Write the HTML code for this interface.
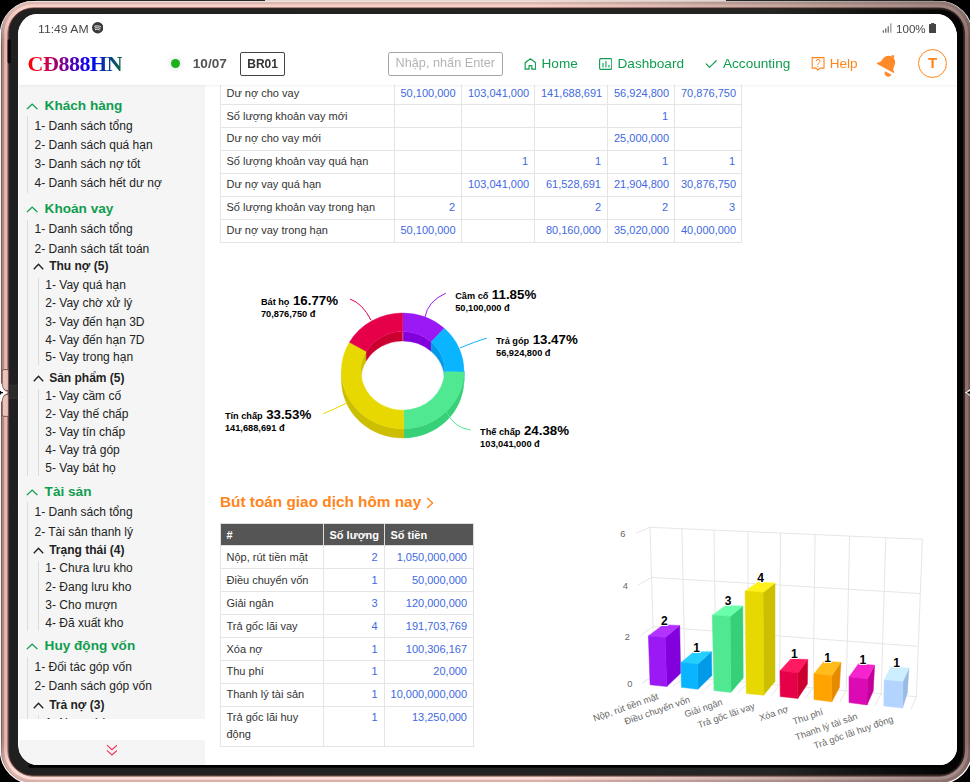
<!DOCTYPE html>
<html lang="vi"><head><meta charset="utf-8"><title>CĐ888HN</title>
<style>
*{box-sizing:border-box;margin:0;padding:0}
html,body{width:970px;height:782px;overflow:hidden;background:#fff}
body{font-family:"Liberation Sans",sans-serif;position:relative;color:#222}
#frame{position:absolute;left:0;top:0;width:970px;height:782px;z-index:0}
#screen{position:absolute;left:18px;top:14px;width:939px;height:751px;background:#fff;border-radius:19px 20px 17.5px 20px / 21px 23px 18px 20.5px;overflow:hidden;z-index:1}
#status{position:absolute;left:0;top:0;width:939px;height:28px;font-size:11px;color:#484848}
#status .time{position:absolute;left:19.6px;top:7.5px;line-height:14px;transform:scaleX(1.11);transform-origin:0 0;white-space:nowrap}
#status .pct{position:absolute;left:877.8px;top:7.5px;line-height:14px;transform:scaleX(1.055);transform-origin:0 0}
#hdr{will-change:transform;position:absolute;left:0;top:0;width:939px;height:71px;background:#fff;box-shadow:0 1px 2px rgba(0,0,0,.055);z-index:5}
#logo{position:absolute;left:9.5px;top:36.6px;font-family:"Liberation Serif",serif;font-weight:bold;font-size:22px;line-height:26px;letter-spacing:-0.45px;
 background:linear-gradient(90deg,#ff0000 0%,#f00028 12%,#0000ff 66%,#0a6a3c 100%);-webkit-background-clip:text;background-clip:text;color:transparent;-webkit-text-fill-color:transparent}
.dot{position:absolute;left:152.7px;top:45px;width:9px;height:9px;border-radius:50%;background:#1cb01c;box-shadow:0 0 4px 2px rgba(200,200,200,.35)}
.date{position:absolute;left:174.8px;top:42px;font-size:13.6px;font-weight:bold;color:#555;line-height:16px}
.br{position:absolute;left:222.2px;top:38.4px;width:44.8px;height:23.5px;border:1px solid #444;border-radius:2px;font-size:12px;font-weight:bold;color:#333;text-align:center;line-height:23.2px}
.srch{position:absolute;left:370px;top:38.2px;width:114.8px;height:23.8px;border:1px solid #a2a2a2;border-radius:2.5px;font-size:12.7px;color:#b4b4b4;line-height:20.6px;padding-left:6.6px;white-space:nowrap;overflow:hidden}
.nav{position:absolute;top:42px;font-size:13.6px;line-height:16px;white-space:nowrap}
.g{color:#0f9d4f}.o{color:#ff851b}
.ico{position:absolute}
.avatar{position:absolute;left:900px;top:35.2px;width:29px;height:29px;border:1px solid #ff851b;border-radius:50%;color:#ff851b;font-weight:bold;font-size:15px;text-align:center;line-height:26.4px}
#side{position:absolute;left:1px;top:70px;width:186px;height:634.5px;background:#f5f5f5;overflow:hidden;font-size:12px;color:#222}
#sidefoot{position:absolute;left:1px;top:726px;width:186px;height:25px;background:#f5f5f5}
.sh{position:relative;height:21px;line-height:21px;font-size:13.6px;font-weight:bold;color:#0f9d4f;padding-left:25.6px;white-space:nowrap}
.sh svg{position:absolute;left:6.5px;top:7.7px}

.it{height:19px;line-height:19px;white-space:nowrap}
.sub{position:relative;height:18px;line-height:18px;font-weight:bold;padding-left:14.5px;white-space:nowrap}
.sub svg{position:absolute;left:-1.6px;top:6.3px}

.it2{height:18px;line-height:18px;white-space:nowrap}
#main{position:absolute;left:187px;top:72px;width:752px;height:679px;background:#fff}
table{border-collapse:collapse;font-size:11px;line-height:16.93px;color:#333}
td,th{border:1px solid #e5e5e5;padding:2.5px 6px;vertical-align:top;text-align:left;font-weight:normal}
td.n{text-align:right;color:#4169e1}
#t1{position:absolute;left:14.5px;top:-4.9px;table-layout:fixed;width:521.5px}
#t2{position:absolute;left:14.5px;top:437.3px}
#t2 th{line-height:16px;background:#555;color:#fff;font-weight:bold;border-color:#ddd;white-space:nowrap}
.h2{position:absolute;left:15px;top:405.5px;font-size:15.35px;font-weight:bold;color:#ff851b;line-height:20px;white-space:nowrap}
svg text{font-family:"Liberation Sans",sans-serif}
</style></head><body>

<svg id="frame" width="970" height="782" viewBox="0 0 970 782">
<defs><linearGradient id="fg" gradientUnits="userSpaceOnUse" x1="0" y1="0" x2="970" y2="0"><stop offset="0" stop-color="#000" stop-opacity="0"/><stop offset="0.55" stop-color="#000" stop-opacity="0"/><stop offset="0.8" stop-color="#000" stop-opacity="0.2"/><stop offset="1" stop-color="#000" stop-opacity="0.38"/></linearGradient><linearGradient id="og" gradientUnits="userSpaceOnUse" x1="0" y1="0" x2="0" y2="782"><stop offset="0" stop-color="#efe6e1"/><stop offset="0.06" stop-color="#7a5a54"/><stop offset="0.94" stop-color="#7a5a54"/><stop offset="1" stop-color="#d8b0aa"/></linearGradient><linearGradient id="g2" gradientUnits="userSpaceOnUse" x1="0" y1="0" x2="0" y2="782"><stop offset="0" stop-color="#dcb8b0"/><stop offset="0.012" stop-color="#dcb8b0"/><stop offset="0.05" stop-color="#ad8b84"/><stop offset="0.95" stop-color="#ad8b84"/><stop offset="0.988" stop-color="#e2bab4"/><stop offset="1" stop-color="#d8b0aa"/></linearGradient><linearGradient id="g3" gradientUnits="userSpaceOnUse" x1="0" y1="0" x2="0" y2="782"><stop offset="0" stop-color="#f7d0c8"/><stop offset="0.012" stop-color="#f7d0c8"/><stop offset="0.05" stop-color="#e8b5b0"/><stop offset="0.95" stop-color="#e8b5b0"/><stop offset="0.985" stop-color="#fddcd7"/><stop offset="1" stop-color="#fddcd7"/></linearGradient><linearGradient id="bg" gradientUnits="userSpaceOnUse" x1="0" y1="0" x2="970" y2="0"><stop offset="0" stop-color="#202020"/><stop offset="0.8" stop-color="#242424"/><stop offset="0.97" stop-color="#050505"/><stop offset="1" stop-color="#030303"/></linearGradient></defs>
<rect x="0" y="0" width="36" height="36" fill="#000"/><rect x="934" y="0" width="36" height="36" fill="#000"/><rect x="0" y="746" width="36" height="36" fill="#000"/><rect x="934" y="746" width="36" height="36" fill="#000"/>
<path d="M33.900000000000006 0.7H938.8A34.2 34.2 0 0 1 973 34.900000000000006V750.3A34.2 34.2 0 0 1 938.8 784.5H33.900000000000006A34.2 34.2 0 0 1 -0.3 750.3V34.900000000000006A34.2 34.2 0 0 1 33.900000000000006 0.7Z" fill="#fff"/>
<rect x="0" y="0" width="970" height="0.85" fill="#000"/>
<rect x="265" y="0" width="461" height="2" fill="#e9d6d1"/>
<path d="M33.5 1.0H939.0A32.5 32.5 0 0 1 971.5 33.5V750.5A32.5 32.5 0 0 1 939.0 783.0H33.5A32.5 32.5 0 0 1 1.0 750.5V33.5A32.5 32.5 0 0 1 33.5 1.0Z" fill="#d2a39d"/>
<path d="M33.5 1.5H939.0A32.0 32.0 0 0 1 971.0 33.5V750.5A32.0 32.0 0 0 1 939.0 782.5H33.5A32.0 32.0 0 0 1 1.5 750.5V33.5A32.0 32.0 0 0 1 33.5 1.5Z" fill="none" stroke="url(#og)" stroke-width="1.1"/>
<path d="M33.5 3.1H939.0A30.4 30.4 0 0 1 969.4 33.5V750.5A30.4 30.4 0 0 1 939.0 780.9H33.5A30.4 30.4 0 0 1 3.1 750.5V33.5A30.4 30.4 0 0 1 33.5 3.1Z" fill="none" stroke="url(#g2)" stroke-width="2.2"/>
<path d="M33.5 5.9H939.0A27.6 27.6 0 0 1 966.6 33.5V750.5A27.6 27.6 0 0 1 939.0 778.1H33.5A27.6 27.6 0 0 1 5.9 750.5V33.5A27.6 27.6 0 0 1 33.5 5.9Z" fill="none" stroke="url(#g3)" stroke-width="3.2"/>
<path d="M33.5 7.9H939.0A25.6 25.6 0 0 1 964.6 33.5V750.5A25.6 25.6 0 0 1 939.0 776.1H33.5A25.6 25.6 0 0 1 7.9 750.5V33.5A25.6 25.6 0 0 1 33.5 7.9Z" fill="none" stroke="#8a655f" stroke-width="1.0"/>
<path d="M33.5 1.0H939.0A32.5 32.5 0 0 1 971.5 33.5V750.5A32.5 32.5 0 0 1 939.0 783.0H33.5A32.5 32.5 0 0 1 1.0 750.5V33.5A32.5 32.5 0 0 1 33.5 1.0Z" fill="url(#fg)"/>
<path d="M33.1 8.3H939.8A24.5 24.5 0 0 1 964.3 32.8V750.9A24.5 24.5 0 0 1 939.8 775.4H33.1A24.5 24.5 0 0 1 8.6 750.9V32.8A24.5 24.5 0 0 1 33.1 8.3Z" fill="url(#bg)"/>
<path d="M33.099999999999994 8.9H939.8A23.9 23.9 0 0 1 963.6999999999999 32.8V750.9A23.9 23.9 0 0 1 939.8 774.8H33.099999999999994A23.9 23.9 0 0 1 9.2 750.9V32.8A23.9 23.9 0 0 1 33.099999999999994 8.9Z" fill="none" stroke="#2e221f" stroke-width="1.2"/>
<path d="M30 766.2H944" stroke="#000" stroke-width="3" stroke-linecap="round"/>
<rect x="7.6" y="39.5" width="3.4" height="24" rx="1.4" fill="#0a0a0a"/>
<path d="M2.2 371.5Q2.2 369.6 4 369.6H8.4V390.6H6Q2.6 389.5 2.2 385Z" fill="#e9c2bc" stroke="#6e4c47" stroke-width="0.9"/>
<path d="M2.2 414.5Q2.2 416.4 4 416.4H8.4V394.6H6Q2.6 395.7 2.2 400Z" fill="#e9c2bc" stroke="#6e4c47" stroke-width="0.9"/>
<path d="M0 383.5H1.7C2.2 388.6 4.4 391.4 7.7 392.6C4.4 393.8 2.2 396.6 1.7 401.5H0Z" fill="#fff"/>
<path d="M0 392.6H3M0.6 390.9V394.4" stroke="#000" stroke-width="1.1" fill="none"/>
<rect x="9" y="385.3" width="8.8" height="13" fill="#2b2b2b"/>
<path d="M9 385.3H17.8M9 398.3H17.8" stroke="#3a3a3a" stroke-width="0.8" fill="none"/>
<path d="M970 389.5 L968.4 389.9 C967.6 391.4 966.4 392.2 964.6 392.6 C966.4 393 967.6 393.8 968.4 395.3 L970 395.7Z" fill="#fff"/>
<path d="M967.4 392.6H970M969.2 391V394.4" stroke="#000" stroke-width="1.1" fill="none"/>
</svg>
<div id="screen">
<div id="hdr">
 <div id="status">
  <span class="time">11:49 AM</span>
  <svg class="ico" style="left:74px;top:8.3px" width="11.4" height="11.4" viewBox="0 0 24 24"><circle cx="12" cy="12" r="12" fill="#3a3a3a"/><path d="M5.6 8.9c4.3-1.3 9.2-.9 12.9 1.2M6.4 12.5c3.6-1 7.6-.6 10.7 1.2M7.2 15.9c2.9-.8 6-.5 8.6 1" fill="none" stroke="#fff" stroke-width="1.9" stroke-linecap="round"/></svg>
  <svg class="ico" style="left:864px;top:9px" width="11" height="10" viewBox="0 0 11 10"><rect x="0.7" y="7.3" width="1.3" height="2.4" fill="#666"/><rect x="3.1" y="5.3" width="1.3" height="4.4" fill="#666"/><rect x="5.6" y="3.2" width="1.3" height="6.5" fill="#777"/><rect x="8.2" y="0.3" width="1.3" height="9.4" fill="#999"/></svg>
  <span class="pct">100%</span>
  <svg class="ico" style="left:911px;top:9px" width="7.4" height="10" viewBox="0 0 7.4 10"><path d="M2.2 0h3v1h1.5a.7.7 0 0 1 .7.7v7.6a.7.7 0 0 1-.7.7H.7a.7.7 0 0 1-.7-.7V1.7A.7.7 0 0 1 .7 1h1.5z" fill="#444"/></svg>
 </div>
 <div id="logo">CĐ888HN</div>
 <div class="dot"></div>
 <div class="date">10/07</div>
 <div class="br">BR01</div>
 <div class="srch">Nhập, nhấn Enter</div>
 <svg class="ico" style="left:505.5px;top:44px" width="12.6" height="12" viewBox="0 0 12.6 12"><path d="M1.15 4.7 6.4 0.85 11.65 4.7V11.2H7.85V7.7H5.05V11.2H1.15Z" fill="none" stroke="#0f9d4f" stroke-width="1.2" stroke-linejoin="round"/></svg>
 <div class="nav g" style="left:523.5px">Home</div>
 <svg class="ico" style="left:580.5px;top:44px" width="13.4" height="12" viewBox="0 0 13.4 12"><rect x="0.6" y="0.6" width="12.2" height="10.8" rx="1.4" fill="none" stroke="#0f9d4f" stroke-width="1.15"/><path d="M4.0 5.4V9.05M6.95 3.3V9.05M10.0 7.4V9.05" stroke="#0f9d4f" stroke-width="1.1" stroke-linecap="round" fill="none"/></svg>
 <div class="nav g" style="left:599.5px">Dashboard</div>
 <svg class="ico" style="left:686.5px;top:45.5px" width="12" height="9" viewBox="0 0 12 9"><path d="M1.2 3.95 4.45 7.35 11.3 0.75" fill="none" stroke="#0f9d4f" stroke-width="1.15" stroke-linecap="round" stroke-linejoin="round"/></svg>
 <div class="nav g" style="left:705px">Accounting</div>
 <svg class="ico" style="left:793px;top:43px" width="14.5" height="14.5" viewBox="0 0 14.5 14.5"><path d="M1.2 0.6H13V11.1H8.9L6.95 13.1 5 11.1H1.2Z" fill="none" stroke="#ff851b" stroke-width="1.1" stroke-linejoin="round"/><path d="M5.25 3.9Q5.4 2.4 7.1 2.4Q9.1 2.4 9.0 4.3Q8.9 5.3 7.6 6.3Q6.7 7 6.7 7.8" fill="none" stroke="#ff851b" stroke-width="0.95" stroke-linecap="round"/><circle cx="6.8" cy="9.5" r="0.6" fill="#ff851b"/></svg>
 <div class="nav o" style="left:811.7px">Help</div>
 <svg class="ico" style="left:850px;top:34px" width="40" height="40" viewBox="850 34 40 40"><g transform="translate(867.2,54.35) rotate(29)" fill="#ff8a2a"><path d="M-9.7 0H9.7V-1.3Q7.4 -2.2 7.0 -4.4L6.8 -6.7A6.8 6.8 0 0 0 -6.8 -6.7L-7.0 -4.4Q-7.4 -2.2 -9.7 -1.3Z"/><circle cx="0.9" cy="-14.0" r="1.5"/><path d="M1.4 2.5H8.6A3.6 3.7 0 0 1 1.4 2.5Z"/></g></svg>
 <div class="avatar">T</div>
</div>

<div id="side">
<div class="sh" style="position:absolute;left:0;top:11.0px"><svg width="12.3" height="6.9" preserveAspectRatio="none" viewBox="0 0 11 7"><path d="M0.8 6.2 5.5 1.2 10.2 6.2" fill="none" stroke="#0f9d4f" stroke-width="1.25"/></svg>Khách hàng</div>
<div class="it" style="position:absolute;left:15.5px;top:33.0px;height:18px;line-height:18px">1- Danh sách tổng</div>
<div class="it" style="position:absolute;left:15.5px;top:52.0px;height:18px;line-height:18px">2- Danh sách quá hạn</div>
<div class="it" style="position:absolute;left:15.5px;top:71.0px;height:18px;line-height:18px">3- Danh sách nợ tốt</div>
<div class="it" style="position:absolute;left:15.5px;top:90.0px;height:18px;line-height:18px">4- Danh sách hết dư nợ</div>
<div style="position:absolute;left:8.2px;top:32.4px;width:1px;height:76.3px;background:#dcdcdc"></div>
<div class="sh" style="position:absolute;left:0;top:114.0px"><svg width="12.3" height="6.9" preserveAspectRatio="none" viewBox="0 0 11 7"><path d="M0.8 6.2 5.5 1.2 10.2 6.2" fill="none" stroke="#0f9d4f" stroke-width="1.25"/></svg>Khoản vay</div>
<div class="it" style="position:absolute;left:15.5px;top:136.0px;height:18px;line-height:18px">1- Danh sách tổng</div>
<div class="it" style="position:absolute;left:15.5px;top:156.0px;height:18px;line-height:18px">2- Danh sách tất toán</div>
<div class="sub" style="position:absolute;left:15.700000000000003px;top:173.0px"><svg width="11" height="7" viewBox="0 0 11 7"><path d="M0.8 6.2 5.5 1.2 10.2 6.2" fill="none" stroke="#222" stroke-width="1.35"/></svg>Thu nợ (5)</div>
<div class="it2" style="position:absolute;left:26.299999999999997px;top:192.0px">1- Vay quá hạn</div>
<div class="it2" style="position:absolute;left:26.299999999999997px;top:210.0px">2- Vay chờ xử lý</div>
<div class="it2" style="position:absolute;left:26.299999999999997px;top:229.0px">3- Vay đến hạn 3D</div>
<div class="it2" style="position:absolute;left:26.299999999999997px;top:247.0px">4- Vay đến hạn 7D</div>
<div class="it2" style="position:absolute;left:26.299999999999997px;top:264.0px">5- Vay trong hạn</div>
<div class="sub" style="position:absolute;left:15.700000000000003px;top:285.0px"><svg width="11" height="7" viewBox="0 0 11 7"><path d="M0.8 6.2 5.5 1.2 10.2 6.2" fill="none" stroke="#222" stroke-width="1.35"/></svg>Sản phẩm (5)</div>
<div class="it2" style="position:absolute;left:26.299999999999997px;top:303.0px">1- Vay cầm cố</div>
<div class="it2" style="position:absolute;left:26.299999999999997px;top:321.0px">2- Vay thế chấp</div>
<div class="it2" style="position:absolute;left:26.299999999999997px;top:339.0px">3- Vay tín chấp</div>
<div class="it2" style="position:absolute;left:26.299999999999997px;top:357.0px">4- Vay trả góp</div>
<div class="it2" style="position:absolute;left:26.299999999999997px;top:375.0px">5- Vay bát họ</div>
<div style="position:absolute;left:8.2px;top:136.3px;width:1px;height:255.5px;background:#dcdcdc"></div>
<div style="position:absolute;left:19.2px;top:194.1px;width:1px;height:87.0px;background:#dcdcdc"></div>
<div style="position:absolute;left:19.2px;top:304.5px;width:1px;height:87.3px;background:#dcdcdc"></div>
<div class="sh" style="position:absolute;left:0;top:397.0px"><svg width="12.3" height="6.9" preserveAspectRatio="none" viewBox="0 0 11 7"><path d="M0.8 6.2 5.5 1.2 10.2 6.2" fill="none" stroke="#0f9d4f" stroke-width="1.25"/></svg>Tài sản</div>
<div class="it" style="position:absolute;left:15.5px;top:419.0px;height:18px;line-height:18px">1- Danh sách tổng</div>
<div class="it" style="position:absolute;left:15.5px;top:439.0px;height:18px;line-height:18px">2- Tài sản thanh lý</div>
<div class="sub" style="position:absolute;left:15.700000000000003px;top:457.0px"><svg width="11" height="7" viewBox="0 0 11 7"><path d="M0.8 6.2 5.5 1.2 10.2 6.2" fill="none" stroke="#222" stroke-width="1.35"/></svg>Trạng thái (4)</div>
<div class="it2" style="position:absolute;left:26.299999999999997px;top:475.0px">1- Chưa lưu kho</div>
<div class="it2" style="position:absolute;left:26.299999999999997px;top:494.0px">2- Đang lưu kho</div>
<div class="it2" style="position:absolute;left:26.299999999999997px;top:512.0px">3- Cho mượn</div>
<div class="it2" style="position:absolute;left:26.299999999999997px;top:530.0px">4- Đã xuất kho</div>
<div style="position:absolute;left:8.2px;top:418.3px;width:1px;height:128.3px;background:#dcdcdc"></div>
<div style="position:absolute;left:19.2px;top:477.1px;width:1px;height:69.5px;background:#dcdcdc"></div>
<div class="sh" style="position:absolute;left:0;top:551.0px"><svg width="12.3" height="6.9" preserveAspectRatio="none" viewBox="0 0 11 7"><path d="M0.8 6.2 5.5 1.2 10.2 6.2" fill="none" stroke="#0f9d4f" stroke-width="1.25"/></svg>Huy động vốn</div>
<div class="it" style="position:absolute;left:15.5px;top:574.0px;height:18px;line-height:18px">1- Đối tác góp vốn</div>
<div class="it" style="position:absolute;left:15.5px;top:593.0px;height:18px;line-height:18px">2- Danh sách góp vốn</div>
<div class="sub" style="position:absolute;left:15.700000000000003px;top:612.0px"><svg width="11" height="7" viewBox="0 0 11 7"><path d="M0.8 6.2 5.5 1.2 10.2 6.2" fill="none" stroke="#222" stroke-width="1.35"/></svg>Trả nợ (3)</div>
<div class="it2" style="position:absolute;left:26.299999999999997px;top:630.0px">1- Nợ quá hạn</div>
<div style="position:absolute;left:8.2px;top:573.2px;width:1px;height:72.8px;background:#dcdcdc"></div>
<div style="position:absolute;left:19.2px;top:631.3px;width:1px;height:14.7px;background:#dcdcdc"></div>
</div>
<div id="sidefoot"><svg style="position:absolute;left:86.6px;top:3.7px" width="11.9" height="12.5" viewBox="0 0 13 13" preserveAspectRatio="none"><path d="M1 1.2 6.5 6 12 1.2M1 6.6 6.5 11.4 12 6.6" fill="none" stroke="#f0365a" stroke-width="1.3"/></svg></div>
<div id="main">
<table id="t1"><colgroup><col style="width:174px"><col style="width:67.5px"><col style="width:73px"><col style="width:73px"><col style="width:67px"><col style="width:67px"></colgroup>
<tr><td>Dư nợ cho vay</td><td class="n">50,100,000</td><td class="n">103,041,000</td><td class="n">141,688,691</td><td class="n">56,924,800</td><td class="n">70,876,750</td></tr>
<tr><td>Số lượng khoản vay mới</td><td class="n"></td><td class="n"></td><td class="n"></td><td class="n">1</td><td class="n"></td></tr>
<tr><td>Dư nợ cho vay mới</td><td class="n"></td><td class="n"></td><td class="n"></td><td class="n">25,000,000</td><td class="n"></td></tr>
<tr><td>Số lượng khoản vay quá hạn</td><td class="n"></td><td class="n">1</td><td class="n">1</td><td class="n">1</td><td class="n">1</td></tr>
<tr><td>Dư nợ vay quá hạn</td><td class="n"></td><td class="n">103,041,000</td><td class="n">61,528,691</td><td class="n">21,904,800</td><td class="n">30,876,750</td></tr>
<tr><td>Số lượng khoản vay trong hạn</td><td class="n">2</td><td class="n"></td><td class="n">2</td><td class="n">2</td><td class="n">3</td></tr>
<tr><td>Dư nợ vay trong hạn</td><td class="n">50,100,000</td><td class="n"></td><td class="n">80,160,000</td><td class="n">35,020,000</td><td class="n">40,000,000</td></tr>
</table>
<div class="h2">Bút toán giao dịch hôm nay<svg style="position:absolute;left:206px;top:5.5px" width="8" height="12" viewBox="0 0 8 12"><path d="M1.2 1 6.6 6 1.2 11" fill="none" stroke="#ff851b" stroke-width="1.3"/></svg></div>
<table id="t2" style="table-layout:fixed;width:253.5px"><colgroup><col style="width:103px"><col style="width:61px"><col style="width:89.5px"></colgroup>
<tr><th>#</th><th>Số lượng</th><th>Số tiền</th></tr>
<tr><td>Nộp, rút tiền mặt</td><td class="n">2</td><td class="n">1,050,000,000</td></tr>
<tr><td>Điều chuyển vốn</td><td class="n">1</td><td class="n">50,000,000</td></tr>
<tr><td>Giải ngân</td><td class="n">3</td><td class="n">120,000,000</td></tr>
<tr><td>Trả gốc lãi vay</td><td class="n">4</td><td class="n">191,703,769</td></tr>
<tr><td>Xóa nợ</td><td class="n">1</td><td class="n">100,306,167</td></tr>
<tr><td>Thu phí</td><td class="n">1</td><td class="n">20,000</td></tr>
<tr><td>Thanh lý tài sản</td><td class="n">1</td><td class="n">10,000,000,000</td></tr>
<tr><td>Trả gốc lãi huy động</td><td class="n">1</td><td class="n">13,250,000</td></tr>
</table>
<svg style="position:absolute;left:0;top:0" width="752" height="679" viewBox="205 86 752 679"><path d="M464.00 370.90A61.3 57.9 0 0 1 463.99 372.06L463.99 381.36A61.3 57.9 0 0 0 464.00 380.20Z" fill="#009ae6" stroke="#009ae6" stroke-width="0.4"/>
<path d="M463.99 372.06A61.3 57.9 0 0 1 403.86 428.79L403.86 438.09A61.3 57.9 0 0 0 463.99 381.36Z" fill="#36d078" stroke="#36d078" stroke-width="0.4"/>
<path d="M403.86 428.79A61.3 57.9 0 0 1 341.40 370.90L341.40 380.20A61.3 57.9 0 0 0 403.86 438.09Z" fill="#ccbe00" stroke="#ccbe00" stroke-width="0.4"/>
<path d="M402.70 331.60A41.9 39.3 0 0 1 431.09 342.00L431.09 351.30A41.9 39.3 0 0 0 402.70 340.90Z" fill="#8200dc" stroke="#8200dc" stroke-width="0.4"/>
<path d="M431.09 342.00A41.9 39.3 0 0 1 444.60 370.90L444.60 380.20A41.9 39.3 0 0 0 431.09 351.30Z" fill="#009ae6" stroke="#009ae6" stroke-width="0.4"/>
<path d="M360.80 370.90A41.9 39.3 0 0 1 366.28 351.47L366.28 360.77A41.9 39.3 0 0 0 360.80 380.20Z" fill="#ccbe00" stroke="#ccbe00" stroke-width="0.4"/>
<path d="M366.28 351.47A41.9 39.3 0 0 1 402.70 331.60L402.70 340.90A41.9 39.3 0 0 0 366.28 360.77Z" fill="#cc0030" stroke="#cc0030" stroke-width="0.4"/>
<path d="M402.9 331.6V340.9" stroke="#e9a0c0" stroke-width="0.5"/>
<path d="M402.70 313.00A61.3 57.9 0 0 1 444.24 328.32L431.09 342.00A41.9 39.3 0 0 0 402.70 331.60Z" fill="#9b19f5" stroke="#9b19f5" stroke-width="0.4"/>
<path d="M444.24 328.32A61.3 57.9 0 0 1 463.99 372.06L444.59 371.69A41.9 39.3 0 0 0 431.09 342.00Z" fill="#0bb4ff" stroke="#0bb4ff" stroke-width="0.4"/>
<path d="M463.99 372.06A61.3 57.9 0 0 1 403.86 428.79L403.49 410.19A41.9 39.3 0 0 0 444.59 371.69Z" fill="#50e991" stroke="#50e991" stroke-width="0.4"/>
<path d="M403.86 428.79A61.3 57.9 0 0 1 349.41 342.28L366.28 351.47A41.9 39.3 0 0 0 403.49 410.19Z" fill="#e6d800" stroke="#e6d800" stroke-width="0.4"/>
<path d="M349.41 342.28A61.3 57.9 0 0 1 402.70 313.00L402.70 331.60A41.9 39.3 0 0 0 366.28 351.47Z" fill="#e60049" stroke="#e60049" stroke-width="0.4"/>
<path d="M425.1 316.7Q427.6 301.5 445.9 293.1" fill="none" stroke="#9b19f5" stroke-width="1"/>
<path d="M460.1 348Q476 341.2 486.9 338.2" fill="none" stroke="#0bb4ff" stroke-width="1"/>
<path d="M446.6 411.9Q454 428 470.7 430" fill="none" stroke="#50e991" stroke-width="1"/>
<path d="M346.4 403.1Q334 409.5 323.2 413.7" fill="none" stroke="#e6d800" stroke-width="1"/>
<path d="M371 320.1Q362.5 303.5 350 299" fill="none" stroke="#e60049" stroke-width="1"/>
<text x="455.2" y="298.9" font-weight="bold" font-size="9.2px" fill="#000">Cầm cố <tspan dx="0.9" font-size="13.3px">11.85%</tspan></text>
<text x="455.2" y="310.7" font-weight="bold" font-size="9.25px" fill="#000">50,100,000 đ</text>
<text x="496.0" y="343.9" font-weight="bold" font-size="9.2px" fill="#000">Trả góp <tspan dx="0.9" font-size="13.3px">13.47%</tspan></text>
<text x="496.0" y="355.7" font-weight="bold" font-size="9.25px" fill="#000">56,924,800 đ</text>
<text x="480.1" y="435.2" font-weight="bold" font-size="9.2px" fill="#000">Thế chấp <tspan dx="0.9" font-size="13.3px">24.38%</tspan></text>
<text x="480.1" y="446.6" font-weight="bold" font-size="9.25px" fill="#000">103,041,000 đ</text>
<text x="224.9" y="419.1" font-weight="bold" font-size="9.2px" fill="#000">Tín chấp <tspan dx="0.9" font-size="13.3px">33.53%</tspan></text>
<text x="224.9" y="430.8" font-weight="bold" font-size="9.25px" fill="#000">141,688,691 đ</text>
<text x="260.9" y="305.2" font-weight="bold" font-size="9.2px" fill="#000">Bát họ <tspan dx="0.9" font-size="13.3px">16.77%</tspan></text>
<text x="260.9" y="316.9" font-weight="bold" font-size="9.25px" fill="#000">70,876,750 đ</text><path d="M636.2 533.2L650.0 527.3L922.4 539.3" fill="none" stroke="#e6e6e6" stroke-width="1"/>
<path d="M638.1 585.2L651.4 577.4L920.0 593.5" fill="none" stroke="#e6e6e6" stroke-width="1"/>
<path d="M639.9 636.2L652.9 626.5L917.7 646.4" fill="none" stroke="#e6e6e6" stroke-width="1"/>
<path d="M642.3 683.3L654.3 674.6L916.4 696.7" fill="none" stroke="#e6e6e6" stroke-width="1"/>
<path d="M650.0 527.3L654.5 674.6L642.3 683.3" fill="none" stroke="#e6e6e6" stroke-width="1"/>
<path d="M681.9 528.7L685.1 677.2L673.2 686.2" fill="none" stroke="#e6e6e6" stroke-width="1"/>
<path d="M714.0 530.1L715.9 679.8L705.1 689.3" fill="none" stroke="#e6e6e6" stroke-width="1"/>
<path d="M747.9 531.6L748.5 682.5L738.1 692.4" fill="none" stroke="#e6e6e6" stroke-width="1"/>
<path d="M780.4 533.0L779.7 685.2L771.1 695.5" fill="none" stroke="#e6e6e6" stroke-width="1"/>
<path d="M815.1 534.6L813.1 688.0L805.2 698.7" fill="none" stroke="#e6e6e6" stroke-width="1"/>
<path d="M849.6 536.1L846.2 690.8L839.8 702.0" fill="none" stroke="#e6e6e6" stroke-width="1"/>
<path d="M885.8 537.7L881.1 693.7L875.0 705.4" fill="none" stroke="#e6e6e6" stroke-width="1"/>
<path d="M922.4 539.3L916.4 696.7L911.2 708.8" fill="none" stroke="#e6e6e6" stroke-width="1"/>
<path d="M665.1 637.6L679.7 625.5L680.6 673.3L666.8 686.5Z" fill="#8200dc" stroke="#8200dc" stroke-width="0.5" stroke-linejoin="round"/>
<path d="M648.4 635.9L665.1 637.6L679.7 625.5L663.2 624.7Z" fill="#b432ff" stroke="#b432ff" stroke-width="0.5" stroke-linejoin="round"/>
<path d="M648.4 635.9L665.1 637.6L666.8 686.5L650.1 684.8Z" fill="#9b19f5" stroke="#9b19f5" stroke-width="0.5" stroke-linejoin="round"/>
<path d="M697.9 664.1L711.4 651.7L711.9 675.6L697.9 689.2Z" fill="#009ae6" stroke="#009ae6" stroke-width="0.5" stroke-linejoin="round"/>
<path d="M681.0 662.4L697.9 664.1L711.4 651.7L693.9 651.8Z" fill="#24ceff" stroke="#24ceff" stroke-width="0.5" stroke-linejoin="round"/>
<path d="M681.0 662.4L697.9 664.1L697.9 689.2L681.4 687.3Z" fill="#0bb4ff" stroke="#0bb4ff" stroke-width="0.5" stroke-linejoin="round"/>
<path d="M730.1 616.6L742.8 606.0L743.2 678.0L730.8 692.4Z" fill="#36d078" stroke="#36d078" stroke-width="0.5" stroke-linejoin="round"/>
<path d="M712.3 615.2L730.1 616.6L742.8 606.0L725.5 605.6Z" fill="#6affaa" stroke="#6affaa" stroke-width="0.5" stroke-linejoin="round"/>
<path d="M712.3 615.2L730.1 616.6L730.8 692.4L714.0 690.6Z" fill="#50e991" stroke="#50e991" stroke-width="0.5" stroke-linejoin="round"/>
<path d="M763.1 592.5L775.0 583.0L775.0 681.4L763.6 695.2Z" fill="#ccbe00" stroke="#ccbe00" stroke-width="0.5" stroke-linejoin="round"/>
<path d="M745.1 591.1L763.1 592.5L775.0 583.0L758.1 582.1Z" fill="#fff21a" stroke="#fff21a" stroke-width="0.5" stroke-linejoin="round"/>
<path d="M745.1 591.1L763.1 592.5L763.6 695.2L746.3 693.5Z" fill="#e6d800" stroke="#e6d800" stroke-width="0.5" stroke-linejoin="round"/>
<path d="M797.8 672.9L807.7 659.5L807.4 684.0L797.8 698.4Z" fill="#cc0030" stroke="#cc0030" stroke-width="0.5" stroke-linejoin="round"/>
<path d="M780.0 670.8L797.8 672.9L807.7 659.5L791.0 658.7Z" fill="#ff1a62" stroke="#ff1a62" stroke-width="0.5" stroke-linejoin="round"/>
<path d="M780.0 670.8L797.8 672.9L797.8 698.4L780.2 696.5Z" fill="#e60049" stroke="#e60049" stroke-width="0.5" stroke-linejoin="round"/>
<path d="M831.8 675.7L840.9 662.3L839.4 687.6L831.8 701.8Z" fill="#e68a00" stroke="#e68a00" stroke-width="0.5" stroke-linejoin="round"/>
<path d="M814.0 673.8L831.8 675.7L840.9 662.3L823.9 661.3Z" fill="#ffbc1a" stroke="#ffbc1a" stroke-width="0.5" stroke-linejoin="round"/>
<path d="M814.0 673.8L831.8 675.7L831.8 701.8L814.0 699.5Z" fill="#ffa300" stroke="#ffa300" stroke-width="0.5" stroke-linejoin="round"/>
<path d="M867.2 679.1L874.6 665.2L873.2 691.0L867.0 704.9Z" fill="#c2009a" stroke="#c2009a" stroke-width="0.5" stroke-linejoin="round"/>
<path d="M849.0 676.9L867.2 679.1L874.6 665.2L858.5 663.8Z" fill="#f624ce" stroke="#f624ce" stroke-width="0.5" stroke-linejoin="round"/>
<path d="M849.0 676.9L867.2 679.1L867.0 704.9L849.0 702.6Z" fill="#dc0ab4" stroke="#dc0ab4" stroke-width="0.5" stroke-linejoin="round"/>
<path d="M902.8 681.8L908.9 668.0L907.4 692.7L902.6 708.0Z" fill="#9abae6" stroke="#9abae6" stroke-width="0.5" stroke-linejoin="round"/>
<path d="M884.2 680.1L902.8 681.8L908.9 668.0L890.8 666.8Z" fill="#cceeff" stroke="#cceeff" stroke-width="0.5" stroke-linejoin="round"/>
<path d="M884.2 680.1L902.8 681.8L902.6 708.0L883.8 705.9Z" fill="#b3d4ff" stroke="#b3d4ff" stroke-width="0.5" stroke-linejoin="round"/>
<text x="625.3" y="537.4" text-anchor="end" font-size="9.3px" fill="#666">6</text>
<text x="628.0" y="588.5" text-anchor="end" font-size="9.3px" fill="#666">4</text>
<text x="629.8" y="639.6" text-anchor="end" font-size="9.3px" fill="#666">2</text>
<text x="632.4" y="687.3" text-anchor="end" font-size="9.3px" fill="#666">0</text>
<text transform="translate(659.0 698.9) rotate(-19.3)" text-anchor="end" font-size="9.25px" fill="#666">Nộp, rút tiền mặt</text>
<text transform="translate(690.7 702.0) rotate(-19.3)" text-anchor="end" font-size="9.25px" fill="#666">Điều chuyển vốn</text>
<text transform="translate(723.2 704.5) rotate(-19.3)" text-anchor="end" font-size="9.25px" fill="#666">Giải ngân</text>
<text transform="translate(755.4 708.4) rotate(-19.3)" text-anchor="end" font-size="9.25px" fill="#666">Trả gốc lãi vay</text>
<text transform="translate(789.0 711.3) rotate(-19.3)" text-anchor="end" font-size="9.25px" fill="#666">Xóa nợ</text>
<text transform="translate(823.6 714.4) rotate(-19.3)" text-anchor="end" font-size="9.25px" fill="#666">Thu phí</text>
<text transform="translate(858.2 718.8) rotate(-19.3)" text-anchor="end" font-size="9.25px" fill="#666">Thanh lý tài sản</text>
<text transform="translate(893.9 721.5) rotate(-19.3)" text-anchor="end" font-size="9.25px" fill="#666">Trả gốc lãi huy động</text>
<text x="664.35" y="624.7" text-anchor="middle" font-size="12px" font-weight="bold" fill="#000" stroke="#fff" stroke-width="2" stroke-linejoin="round" paint-order="stroke">2</text>
<text x="696.7" y="651.7" text-anchor="middle" font-size="12px" font-weight="bold" fill="#000" stroke="#fff" stroke-width="2" stroke-linejoin="round" paint-order="stroke">1</text>
<text x="728.15" y="604.6" text-anchor="middle" font-size="12px" font-weight="bold" fill="#000" stroke="#fff" stroke-width="2" stroke-linejoin="round" paint-order="stroke">3</text>
<text x="760.6" y="581.6" text-anchor="middle" font-size="12px" font-weight="bold" fill="#000" stroke="#fff" stroke-width="2" stroke-linejoin="round" paint-order="stroke">4</text>
<text x="794.4" y="658.4" text-anchor="middle" font-size="12px" font-weight="bold" fill="#000" stroke="#fff" stroke-width="2" stroke-linejoin="round" paint-order="stroke">1</text>
<text x="827.6" y="662.1" text-anchor="middle" font-size="12px" font-weight="bold" fill="#000" stroke="#fff" stroke-width="2" stroke-linejoin="round" paint-order="stroke">1</text>
<text x="862.8" y="664.4" text-anchor="middle" font-size="12px" font-weight="bold" fill="#000" stroke="#fff" stroke-width="2" stroke-linejoin="round" paint-order="stroke">1</text>
<text x="896.6" y="667.4" text-anchor="middle" font-size="12px" font-weight="bold" fill="#000" stroke="#fff" stroke-width="2" stroke-linejoin="round" paint-order="stroke">1</text></svg>
</div></div></body></html>
